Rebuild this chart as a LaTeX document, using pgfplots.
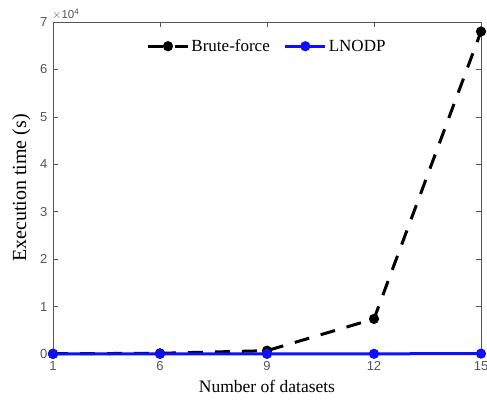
\documentclass[border=0pt]{standalone}
\usepackage{pgfplots}
\pgfplotsset{compat=1.18}
\usepackage{fontspec}
\setmainfont{Liberation Serif}
\newfontfamily\arialfont{Liberation Sans}
\definecolor{tickgray}{RGB}{85,85,85}
\definecolor{matblue}{RGB}{15,15,250}
\begin{document}
\begin{tikzpicture}
\begin{axis}[
    scale only axis,
    width=428pt,
    height=332pt,
    xmin=0, xmax=4,
    ymin=0, ymax=70000,
    xtick={0,1,2,3,4},
    xticklabels={1,6,9,12,15},
    ytick={0,10000,20000,30000,40000,50000,60000,70000},
    scaled y ticks=base 10:-4,
    ytick scale label code/.code={\arialfont\fontsize{11.5}{13}\selectfont$\times$10\textsuperscript{4}},
    every y tick scale label/.style={at={(rel axis cs:0,1)}, anchor=south west, inner sep=1pt, xshift=0pt, yshift=1pt, text=tickgray},
    /pgf/number format/assume math mode=true,
    tick label style={font=\arialfont\fontsize{13}{15}\selectfont, text=tickgray},
    xticklabel style={yshift=-4pt},
    yticklabel style={xshift=-2pt},
    tick align=inside,
    major tick length=5pt,
    axis line style={tickgray, line width=0.7pt},
    every tick/.style={tickgray, line width=0.6pt},
    xlabel={Number of datasets},
    ylabel={Execution time (s)},
    xlabel style={font=\fontsize{17.5}{20}\selectfont, yshift=-3pt},
    ylabel style={font=\fontsize{20}{22}\selectfont, yshift=3pt},
    clip=false,
    legend columns=2,
    legend style={draw=none, fill=none, at={(0.5,0.96)}, anchor=north,
        font=\fontsize{17}{19}\selectfont,
        /tikz/every even column/.append style={column sep=12pt}},
    legend image code/.code={\draw[mark repeat=2,mark phase=2]
        plot coordinates {(0pt,0pt) (20pt,0pt) (40pt,0pt)};},
]
\addplot[black, line width=3pt, dash pattern=on 15pt off 12pt,
    mark=*, mark size=3.5pt, mark options={solid}] coordinates {
    (0,50) (1,150) (2,700) (3,7400) (4,68000)
};
\addlegendentry{Brute-force}
\addplot[matblue, line width=3pt, mark=*, mark size=3.5pt] coordinates {
    (0,5) (1,10) (2,20) (3,40) (4,80)
};
\addlegendentry{LNODP}
\end{axis}
\pgfresetboundingbox
\path[use as bounding box] (-53pt,-51pt) rectangle (434pt,354pt);
\end{tikzpicture}
\end{document}
